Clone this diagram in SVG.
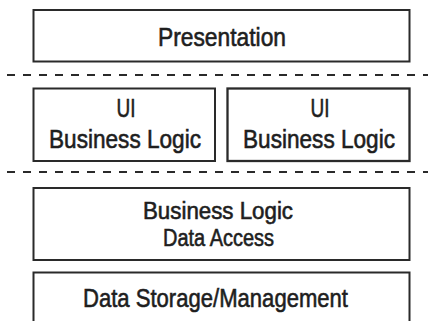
<svg xmlns="http://www.w3.org/2000/svg" width="428" height="321" viewBox="0 0 428 321">
<style>
.box{fill:#fff;stroke:#2a2a2a;stroke-width:2}
.t{font-family:"Liberation Sans",Arial,sans-serif;font-size:26px;fill:#1e1e1e;stroke:#1e1e1e;stroke-width:0.6;text-anchor:middle}
.s{font-size:23.5px}
.dash{stroke:#2a2a2a;stroke-width:2.2;stroke-dasharray:8 8;fill:none}
</style>
<rect width="428" height="321" fill="#fff"/>
<g id="separators">
<line class="dash" x1="7" y1="75" x2="428" y2="75"/>
<line class="dash" x1="7" y1="172" x2="428" y2="172"/>
</g>
<g id="presentation">
<rect class="box" x="33.5" y="10" width="376" height="51.5"/>
<text class="t" x="222" y="46" textLength="128" lengthAdjust="spacingAndGlyphs">Presentation</text>
</g>
<g id="ui-left">
<rect class="box" x="33.5" y="88.5" width="181.5" height="72.5"/>
<text class="t" x="126" y="117" textLength="19" lengthAdjust="spacingAndGlyphs">UI</text>
<text class="t" x="125" y="148" textLength="152" lengthAdjust="spacingAndGlyphs">Business Logic</text>
</g>
<g id="ui-right">
<rect class="box" x="227.5" y="88.5" width="182" height="72.5" style="stroke-width:2.3"/>
<text class="t" x="320" y="117" textLength="19" lengthAdjust="spacingAndGlyphs">UI</text>
<text class="t" x="319" y="148" textLength="152" lengthAdjust="spacingAndGlyphs">Business Logic</text>
</g>
<g id="business-data">
<rect class="box" x="33.5" y="188" width="376" height="72"/>
<text class="t s" x="218" y="219" textLength="150" lengthAdjust="spacingAndGlyphs">Business Logic</text>
<text class="t s" x="218.5" y="246" textLength="111" lengthAdjust="spacingAndGlyphs">Data Access</text>
</g>
<g id="data-storage">
<rect class="box" x="33.5" y="272.5" width="376" height="60"/>
<text class="t" x="215.5" y="307" textLength="265" lengthAdjust="spacingAndGlyphs">Data Storage/Management</text>
</g>
</svg>
